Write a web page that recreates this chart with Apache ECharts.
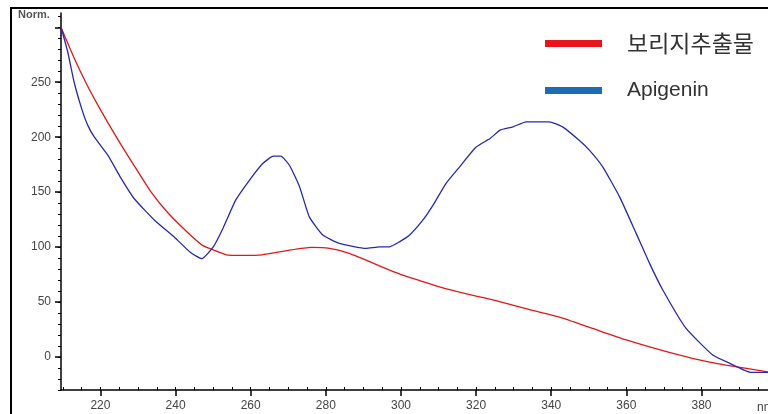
<!DOCTYPE html>
<html>
<head>
<meta charset="utf-8">
<script src="https://cdn.jsdelivr.net/npm/echarts@6/dist/echarts.min.js"></script>
<style>
html,body{margin:0;padding:0;background:#fff;}
#chart{width:768px;height:414px;}
</style>
</head>
<body>
<div id="chart"></div>
<script>
// Wavelength (nm) and normalized absorbance
const seriesNames = ['보리지추출물', 'Apigenin'];
const redX = [209.5,213,216.5,219.5,222,225.5,229,233.5,238,243,247,249,253.5,258,263,270,276,281,286,291.5,297,300,305,310,315,320,325,330,335,342,351,360,369,377.5,386.5,397.7];
const redY = [300,272,247,228,213,193,174,150,131,114,102,98.8,93,92.5,93,97,99.7,98.8,94.5,87,79,75,69.5,64,59.5,55.5,51.5,47,42.5,36.5,26,15.5,6.4,-1.2,-7.3,-13.5];
const blueX = [209.5,211.3,213,215,216.6,218.4,222,225.5,229,234.4,239.7,244,247,250,252.6,256,259.7,263.2,266,268,270.3,273,275.6,279.2,283.6,290.7,294.3,297,299.6,302.3,305.8,308.5,312,315.6,320,323.7,326.4,329.8,333.3,339.5,343,347.5,350.2,353.7,358.2,362.6,366.2,369.7,375.9,383,387.5,393.2,397.7];
const blueY = [300,277.5,250,226,211,200,183.5,162.5,144,124.5,109,95,89.5,100,117,142.7,161,176,182.7,182.7,174.5,155,127.5,111,103.4,98.8,100.3,100.3,104.8,111,124.5,138,158,173,191,198.8,206.4,209.4,214,214,209.4,197,188,173,145.7,112.5,85,61,26,1.8,-5.7,-14,-14];
const xTickLabels = [220,240,260,280,300,320,340,360,380];
const yTickLabels = [0,50,100,150,200,250];
const yMajorTicks = [0,50,100,150,200,250,300];
const xMinorTicks = [];
for (let v = 210; v <= 395; v += 5) xMinorTicks.push(v);
const yMinorTicks = [];
for (let v = -30; v <= 310; v += 10) yMinorTicks.push(v);

const X_MIN = 209.5, X_MAX = 397.7, Y_MIN = -30, Y_MAX = 313;

function zip(a, b) { return a.map((v, i) => [v, b[i]]); }

const chart = echarts.init(document.getElementById('chart'), null, {renderer: 'canvas'});
const labelFont = {fontFamily: 'Liberation Sans, Arial, sans-serif', fontSize: 12, color: '#444'};

chart.setOption({
  animation: false,
  backgroundColor: '#fff',
  grid: {left: 61, right: 0, top: 13, bottom: 24, containLabel: false},
  legend: {
    orient: 'vertical',
    left: 540,
    top: 27,
    icon: 'rect',
    itemWidth: 57,
    itemHeight: 7,
    itemGap: 25,
    formatter: function (name) {
      return /[가-힣]/.test(name) ? '{k|' + name + '}' : '{a|' + name + '}';
    },
    textStyle: {
      color: '#333', padding: [0, 0, 0, 20],
      rich: {
        k: {fontFamily: 'Noto Sans CJK KR, sans-serif', fontSize: 23, lineHeight: 24, color: '#333'},
        a: {fontFamily: 'Liberation Sans, Arial, sans-serif', fontSize: 21, lineHeight: 24, color: '#333'}
      }
    },
    data: [
      {name: seriesNames[0], itemStyle: {color: '#e8141c'}},
      {name: seriesNames[1], itemStyle: {color: '#1a6cb5'}}
    ]
  },
  xAxis: [
    {
      type: 'value', min: X_MIN, max: X_MAX, position: 'bottom',
      axisLine: {show: true, onZero: false, lineStyle: {color: '#000', width: 1.5}},
      axisTick: {show: true, customValues: xTickLabels, length: 6, lineStyle: {color: '#000', width: 1.5}},
      axisLabel: Object.assign({customValues: xTickLabels, margin: 10}, labelFont),
      splitLine: {show: false}
    },
    {
      type: 'value', min: X_MIN, max: X_MAX, position: 'bottom',
      axisLine: {show: false, onZero: false},
      axisTick: {show: true, inside: true, customValues: xMinorTicks, length: 3, lineStyle: {color: '#000', width: 1}},
      axisLabel: {show: false},
      splitLine: {show: false}
    }
  ],
  yAxis: [
    {
      type: 'value', min: Y_MIN, max: Y_MAX, position: 'left',
      axisLine: {show: true, onZero: false, lineStyle: {color: '#000', width: 1.5}},
      axisTick: {show: true, customValues: yMajorTicks, length: 6, lineStyle: {color: '#000', width: 1.5}},
      axisLabel: Object.assign({customValues: yTickLabels, margin: 10}, labelFont),
      splitLine: {show: false}
    },
    {
      type: 'value', min: Y_MIN, max: Y_MAX, position: 'left',
      axisLine: {show: false, onZero: false},
      axisTick: {show: true, customValues: yMinorTicks, length: 3, lineStyle: {color: '#000', width: 1}},
      axisLabel: {show: false},
      splitLine: {show: false}
    }
  ],
  series: [
    {
      name: seriesNames[0], type: 'line', xAxisIndex: 0, yAxisIndex: 0,
      data: zip(redX, redY), showSymbol: false, symbol: 'none',
      smooth: 0.15,
      lineStyle: {color: '#e01818', width: 1.3},
      itemStyle: {color: '#e01818'}
    },
    {
      name: seriesNames[1], type: 'line', xAxisIndex: 0, yAxisIndex: 0,
      data: zip(blueX, blueY), showSymbol: false, symbol: 'none',
      smooth: 0.15,
      lineStyle: {color: '#2828b4', width: 1.3},
      itemStyle: {color: '#2828b4'}
    }
  ],
  graphic: [
    {type: 'rect', shape: {x: 11, y: 8, width: 800, height: 500}, style: {fill: 'none', stroke: '#000', lineWidth: 2}, silent: true, z: 100},
    {type: 'text', left: 18, top: 9, style: {text: 'Norm.', font: 'bold 11px Liberation Sans, Arial, sans-serif', fill: '#555'}},
    {type: 'text', left: 757, top: 402, style: {text: 'nm', font: '12px Liberation Sans, Arial, sans-serif', fill: '#444'}}
  ]
});
</script>
</body>
</html>
